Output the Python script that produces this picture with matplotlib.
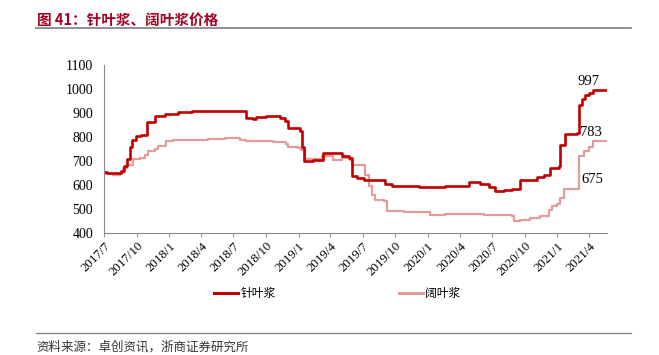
# 针叶浆、阔叶浆价格 (figure 41)

import pandas as pd
import matplotlib.pyplot as plt
from matplotlib.lines import Line2D

# Step 1: data (stepwise weekly prices)
soft_dates = [
    "2017-07-01", "2017-07-08", "2017-08-19", "2017-08-26", "2017-09-04", "2017-09-13",
    "2017-09-19", "2017-09-30", "2017-10-14", "2017-10-29", "2017-11-21", "2017-12-19",
    "2018-01-26", "2018-03-05", "2018-08-05", "2018-08-26", "2018-09-04", "2018-10-02",
    "2018-11-09", "2018-11-23", "2018-12-02", "2019-01-04", "2019-01-12", "2019-01-16",
    "2019-02-12", "2019-03-11", "2019-05-04", "2019-05-23", "2019-06-01", "2019-06-15",
    "2019-07-04", "2019-09-03", "2019-09-22", "2019-12-06", "2020-02-20", "2020-04-26",
    "2020-05-28", "2020-06-21", "2020-07-10", "2020-08-02", "2020-08-26", "2020-09-18",
    "2020-11-04", "2020-11-23", "2020-12-12", "2021-01-05", "2021-01-09", "2021-01-23",
    "2021-02-25", "2021-03-02", "2021-03-11", "2021-03-21", "2021-03-30", "2021-04-13",
    "2021-05-21",
]
soft_values = [
    655, 648, 660, 677, 708, 760,
    788, 802, 809, 864, 888, 896,
    902, 907, 880, 875, 882, 886,
    880, 867, 837, 823, 760, 700,
    705, 735, 722, 712, 638, 629,
    619, 604, 597, 590, 594, 612,
    604, 590, 573, 580, 583, 622,
    633, 643, 670, 677, 767, 813,
    818, 934, 957, 975, 985, 997,
    997,
]

hard_dates = [
    "2017-07-01", "2017-07-26", "2017-08-14", "2017-08-24", "2017-09-04", "2017-09-21",
    "2017-10-10", "2017-10-24", "2017-11-02", "2017-11-21", "2017-11-30", "2017-12-24",
    "2018-01-12", "2018-04-21", "2018-06-07", "2018-07-19", "2018-08-07", "2018-09-04",
    "2018-10-21", "2018-11-28", "2018-12-02", "2018-12-31", "2019-01-09", "2019-01-18",
    "2019-01-23", "2019-03-07", "2019-04-08", "2019-05-04", "2019-05-27", "2019-06-01",
    "2019-07-09", "2019-07-18", "2019-07-28", "2019-08-06", "2019-08-30", "2019-09-08",
    "2019-10-25", "2020-01-08", "2020-02-20", "2020-06-07", "2020-08-26", "2020-08-31",
    "2020-09-18", "2020-10-17", "2020-11-14", "2020-12-07", "2020-12-17", "2020-12-31",
    "2021-01-09", "2021-01-19", "2021-03-02", "2021-03-16", "2021-03-30", "2021-04-13",
    "2021-05-21",
]
hard_values = [
    647, 642, 649, 670, 684, 708,
    712, 726, 740, 749, 763, 785,
    788, 791, 795, 788, 784, 781,
    777, 770, 756, 752, 747, 712,
    708, 719, 705, 712, 705, 684,
    643, 594, 559, 539, 532, 490,
    486, 473, 480, 473, 469, 449,
    455, 462, 472, 497, 511, 522,
    546, 583, 722, 740, 760, 781,
    783,
]

tick_labels = ["2017/7", "2017/10", "2018/1", "2018/4", "2018/7", "2018/10", "2019/1", "2019/4",
               "2019/7", "2019/10", "2020/1", "2020/4", "2020/7", "2020/10", "2021/1", "2021/4"]
labels = ["997", "783", "675"]

soft = pd.Series(soft_values, index=pd.to_datetime(soft_dates))
hard = pd.Series(hard_values, index=pd.to_datetime(hard_dates))
ticks = pd.to_datetime([t + "/1" for t in tick_labels], format="%Y/%m/%d")

RED = "#C00000"
PINK = "#E39C9C"
serif = "Liberation Serif"
cjk = ["Noto Sans CJK SC", "DejaVu Sans"]

# Step 2: figure and axes
fig = plt.figure(figsize=(6.59, 3.55), dpi=100)
ax = fig.add_axes([0.158, 0.344, 0.763, 0.473])

ax.plot(hard.index, hard.values, drawstyle="steps-post", color=PINK, lw=1.6)
ax.plot(soft.index, soft.values, drawstyle="steps-post", color=RED, lw=1.9)

ax.set_xlim(pd.Timestamp("2017-07-01"), pd.Timestamp("2021-05-21"))
ax.set_ylim(400, 1100)
ax.set_yticks(range(400, 1101, 100))
ax.set_xticks(ticks)
ax.set_xticklabels(tick_labels, rotation=45, ha="right", rotation_mode="anchor",
                   fontfamily=serif, fontsize=9.3)
for lab in ax.get_yticklabels():
    lab.set_fontfamily(serif)
    lab.set_fontsize(10)
ax.tick_params(axis="y", length=0, pad=8)
ax.tick_params(axis="x", length=3, color="#999999", pad=2)

for side in ["top", "right"]:
    ax.spines[side].set_visible(False)
for side in ["left", "bottom"]:
    ax.spines[side].set_color("#888888")
    ax.spines[side].set_linewidth(0.8)

# value labels at the right end
ax.text(pd.Timestamp("2021-03-30"), 1003, labels[0], fontfamily=serif, fontsize=10.5, ha="center", va="bottom")
ax.text(pd.Timestamp("2021-04-05"), 790, labels[1], fontfamily=serif, fontsize=10.5, ha="center", va="bottom")
ax.text(pd.Timestamp("2021-04-10"), 595, labels[2], fontfamily=serif, fontsize=10.5, ha="center", va="bottom")

# Step 3: legend
handles = [Line2D([], [], color=RED, lw=2.2), Line2D([], [], color=PINK, lw=2.2)]
fig.legend(handles, ["针叶浆", "阔叶浆"], loc="center", bbox_to_anchor=(0.512, 0.172),
           ncol=2, frameon=False, prop={"family": cjk, "size": 8.5},
           handlelength=2.0, handletextpad=0.2, columnspacing=10.5)

# Step 4: title, source and rules
fig.text(0.056, 0.944, "图 41：针叶浆、阔叶浆价格", color="#A50021", fontsize=10.5,
         fontweight="bold", family=cjk, va="center")
fig.add_artist(Line2D([0.055, 0.957], [0.921, 0.921], color="#888888", lw=1.3))
fig.add_artist(Line2D([0.055, 0.957], [0.062, 0.062], color="#888888", lw=1.0))
fig.text(0.056, 0.022, "资料来源：卓创资讯，浙商证券研究所", color="#333333", fontsize=9,
         family=cjk, va="center")

plt.savefig("out.png", dpi=100)
